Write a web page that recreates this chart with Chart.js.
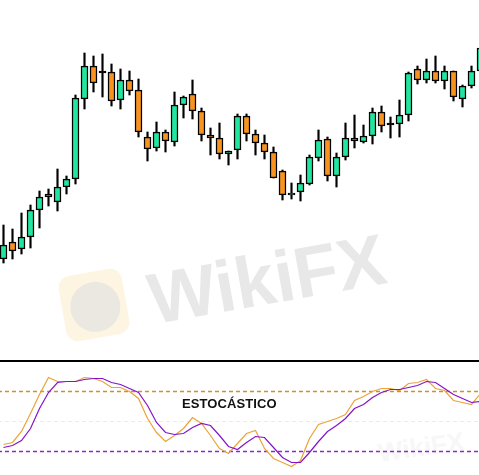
<!DOCTYPE html>
<html>
<head>
<meta charset="utf-8">
<script src="https://cdn.jsdelivr.net/npm/chart.js@4.4.0/dist/chart.umd.min.js"></script>
<style>
  html, body { margin: 0; padding: 0; background: #fff; }
  #wrap { position: relative; width: 479px; height: 475px; overflow: hidden; background: #fff; }
  #priceBox { position: absolute; left: 0; top: 0; width: 479px; height: 359px; z-index: 2; }
  #stochBox { position: absolute; left: 0; top: 362px; width: 479px; height: 113px; z-index: 2; }
  #sep { position: absolute; left: 0; top: 360px; width: 479px; height: 2px; background: #000; z-index: 3; }
  #label { position: absolute; left: 182px; top: 396px; font: bold 13px "Liberation Sans", Arial, sans-serif; color: #111; z-index: 4; letter-spacing: 0.1px; }
  .wm { position: absolute; font-family: "Liberation Sans", Arial, sans-serif; font-weight: bold; color: #e8e8e8; white-space: nowrap; z-index: 1; }
  #wmText { left: 156px; top: 258px; font-size: 72px; transform: rotate(-10deg); transform-origin: left bottom; }
  #wmLogo { left: 62px; top: 272px; width: 64px; height: 66px; border-radius: 12px; background: #fdf4e1; transform: rotate(-10deg); z-index: 1; }
  #wmLogo div { position: absolute; left: 8px; top: 10px; width: 50px; height: 50px; border-radius: 50%; background: #ebe7e1; }
  #wmSmall { left: 378px; top: 432px; font-size: 26px; color: #f7f7f7; transform: rotate(-8deg); }
</style>
</head>
<body>
<div id="wrap">
  <div id="wmLogo" class="wm"><div></div></div>
  <div id="wmText" class="wm">WikiFX</div>
  <div id="wmSmall" class="wm">WikiFX</div>
  <div id="priceBox"><canvas id="priceChart" width="479" height="359"></canvas></div>
  <div id="sep"></div>
  <div id="stochBox"><canvas id="stochChart" width="479" height="113"></canvas></div>
  <div id="label">ESTOCÁSTICO</div>
</div>
<script>
// candles (price units)
const opens  = [101, 118, 111, 123, 150, 163, 158, 173, 181, 261, 294, 287, 288, 260, 280, 270, 223, 212, 228, 218, 255, 266, 249, 225, 222, 206, 210, 244, 226, 217, 208, 189, 165, 168, 176, 202, 221, 184, 203, 222, 218, 224, 248, 235, 236, 245, 291, 280, 289, 279, 289, 261, 274, 289];
const highs  = [135, 131, 147, 155, 169, 171, 191, 184, 265, 307, 304, 306, 296, 291, 289, 281, 228, 238, 230, 268, 264, 280, 252, 232, 237, 209, 246, 246, 230, 225, 213, 190, 177, 185, 205, 230, 223, 207, 237, 245, 235, 252, 254, 243, 260, 288, 294, 301, 304, 294, 289, 275, 294, 318];
const lows   = [97, 101, 106, 112, 132, 154, 149, 166, 176, 251, 268, 263, 254, 251, 265, 223, 199, 209, 208, 214, 242, 241, 219, 205, 201, 195, 201, 219, 205, 201, 182, 160, 161, 159, 175, 199, 179, 173, 200, 212, 217, 216, 228, 222, 223, 239, 276, 277, 277, 271, 259, 253, 272, 287];
const closes = [115, 109, 123, 150, 163, 166, 173, 181, 262, 294, 277, 287, 259, 280, 269, 228, 211, 228, 219, 255, 263, 249, 225, 222, 206, 209, 244, 226, 217, 208, 182, 165, 167, 177, 203, 220, 184, 203, 222, 219, 224, 248, 234, 235, 245, 287, 280, 289, 279, 289, 263, 274, 289, 312];

// stochastic %K (orange) and %D (purple)
const stochK = [27, 29, 40, 58, 77, 94, 90, 90, 90, 94, 93, 90, 84, 84, 80, 73, 53, 39, 30, 36, 43, 54, 48, 36, 23, 18, 28, 38, 41, 23, 13, 9, 5, 11, 33, 47, 50, 53, 57, 71, 75, 80, 83, 83, 81, 88, 89, 92, 83, 81, 71, 69, 67, 78];
const stochD = [24, 26, 31, 43, 63, 79, 89, 90, 90, 92, 93, 93, 89, 87, 83, 79, 66, 49, 39, 37, 38, 44, 48, 46, 36, 25, 22, 29, 35, 34, 24, 14, 9, 9, 19, 30, 40, 46, 53, 63, 67, 74, 79, 82, 82, 84, 86, 90, 89, 83, 77, 73, 69, 70];
const levels = [80, 50, 20];

const xMin = -3.5 / 9;
const xMax = xMin + 479 / 9;

const upColor = '#20e6a0';
const downColor = '#f7931e';

const bodies = opens.map((o, i) => ({ x: i, y: [Math.min(o, closes[i]), Math.max(o, closes[i])] }));
const wicks = highs.map((h, i) => ({ x: i, y: [lows[i], h] }));
const bodyColors = opens.map((o, i) => closes[i] > o ? upColor : (closes[i] < o ? downColor : '#000'));

new Chart(document.getElementById('priceChart'), {
    type: 'bar',
    data: {
        datasets: [{
            data: bodies,
            backgroundColor: bodyColors,
            borderColor: '#000',
            borderWidth: 1.5,
            borderSkipped: false,
            barThickness: 7,
            minBarLength: 2,
            grouped: false
        }, {
            data: wicks,
            backgroundColor: '#000',
            borderWidth: 0,
            barThickness: 1.5,
            grouped: false
        }]
    },
    options: {
        responsive: false,
        animation: false,
        devicePixelRatio: 1,
        plugins: { legend: { display: false }, tooltip: { enabled: false } },
        scales: {
            x: { type: 'linear', min: xMin, max: xMax, offset: false, display: false },
            y: { min: 1, max: 360, display: false }
        }
    }
});

const levelLine = (v, color, w) => ({
    data: [{ x: xMin - 1, y: v }, { x: xMax + 1, y: v }],
    borderColor: color,
    borderWidth: w,
    borderDash: [4, 3],
    pointRadius: 0
});

new Chart(document.getElementById('stochChart'), {
    type: 'line',
    data: {
        datasets: [{
            data: stochD.map((v, i) => ({ x: i, y: v })),
            borderColor: '#8414c8',
            borderWidth: 1.2,
            pointRadius: 0,
            tension: 0
        }, {
            data: stochK.map((v, i) => ({ x: i, y: v })),
            borderColor: '#eba337',
            borderWidth: 1.2,
            pointRadius: 0,
            tension: 0
        },
        levelLine(levels[0], '#d09022', 1.4),
        levelLine(levels[1], '#ebebeb', 1),
        levelLine(levels[2], '#8c28d0', 1.4)]
    },
    options: {
        responsive: false,
        animation: false,
        devicePixelRatio: 1,
        plugins: { legend: { display: false }, tooltip: { enabled: false } },
        scales: {
            x: { type: 'linear', min: xMin, max: xMax, display: false },
            y: { min: -3.5, max: 109.5, display: false }
        }
    }
});
</script>
</body>
</html>
